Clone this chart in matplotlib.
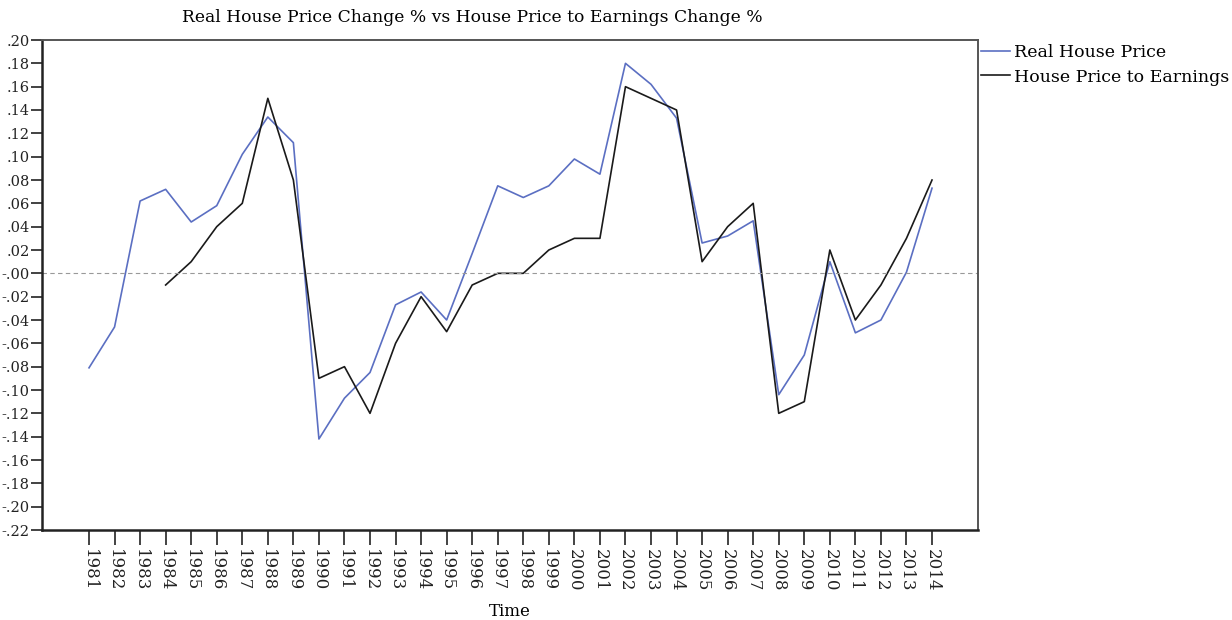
"""Real house price change vs house price to earnings change, 1981-2014."""

import matplotlib
matplotlib.use("Agg")
import matplotlib.pyplot as plt
import numpy as np
from matplotlib.lines import Line2D
from matplotlib.ticker import FuncFormatter

years = [str(y) for y in range(1981, 2015)]

real_house_price = [
    -0.081, -0.046, 0.062, 0.072, 0.044, 0.058, 0.102, 0.134, 0.112, -0.142,
    -0.107, -0.085, -0.027, -0.016, -0.040, 0.017, 0.075, 0.065, 0.075, 0.098,
    0.085, 0.180, 0.162, 0.133, 0.026, 0.032, 0.045, -0.104, -0.070, 0.010,
    -0.051, -0.040, 0.001, 0.073,
]

# series starts in 1984
price_to_earnings = [
    np.nan, np.nan, np.nan, -0.01, 0.01, 0.04, 0.06, 0.15, 0.08, -0.09,
    -0.08, -0.12, -0.06, -0.02, -0.05, -0.01, 0.00, 0.00, 0.02, 0.03,
    0.03, 0.16, 0.15, 0.14, 0.01, 0.04, 0.06, -0.12, -0.11, 0.02,
    -0.04, -0.01, 0.03, 0.08,
]

y_ticks = np.round(np.arange(-0.22, 0.201, 0.02), 2)

BLUE = "#5b6fc2"
BLACK = "#1a1a1a"

plt.rcParams["font.family"] = ["DejaVu Serif"]

fig = plt.figure(figsize=(12.32, 6.2), dpi=100)
ax = fig.add_axes([42 / 1232, 1 - 530 / 620, (978 - 42) / 1232, (530 - 40) / 620])

x = np.arange(len(years))
ax.plot(x, real_house_price, color=BLUE, lw=1.2)
ax.plot(x, price_to_earnings, color=BLACK, lw=1.2)
ax.axhline(0, color="#999999", lw=0.8, ls=(0, (4, 3)))

ax.set_xlim(-1.84, len(years) - 1 + 1.8)
ax.set_ylim(-0.22, 0.20)

ax.set_yticks(y_ticks)
ax.yaxis.set_major_formatter(
    FuncFormatter(lambda v, _: f"{v:.2f}".replace("0.", ".", 1).replace("-0.", "-."))
)
ax.set_xticks(x)
ax.set_xticklabels(years, rotation=-90)

ax.tick_params(axis="y", length=8, width=1.2, labelsize=10.5, pad=1, colors="#222222")
ax.tick_params(axis="x", length=11, width=1.2, labelsize=12, pad=3, colors="#222222")

for side in ["left", "bottom"]:
    ax.spines[side].set_linewidth(1.8)
    ax.spines[side].set_color("#222222")
for side in ["top", "right"]:
    ax.spines[side].set_linewidth(1.4)
    ax.spines[side].set_color("#555555")

ax.set_xlabel("Time", fontsize=12, labelpad=8)

fig.text(472 / 1232, 1 - 18 / 620, "Real House Price Change % vs House Price to Earnings Change %",
         ha="center", va="center", fontsize=12.3)

handles = [Line2D([], [], color=BLUE, lw=1.2), Line2D([], [], color=BLACK, lw=1.2)]
fig.legend(handles, ["Real House Price", "House Price to Earnings"],
           loc="upper left", bbox_to_anchor=(979 / 1232, 1 - 42 / 620),
           frameon=False, fontsize=12.5, handlelength=1.7, handletextpad=0.2,
           labelspacing=0.45, borderaxespad=0, borderpad=0.1)

fig.savefig("out.png", dpi=100)
